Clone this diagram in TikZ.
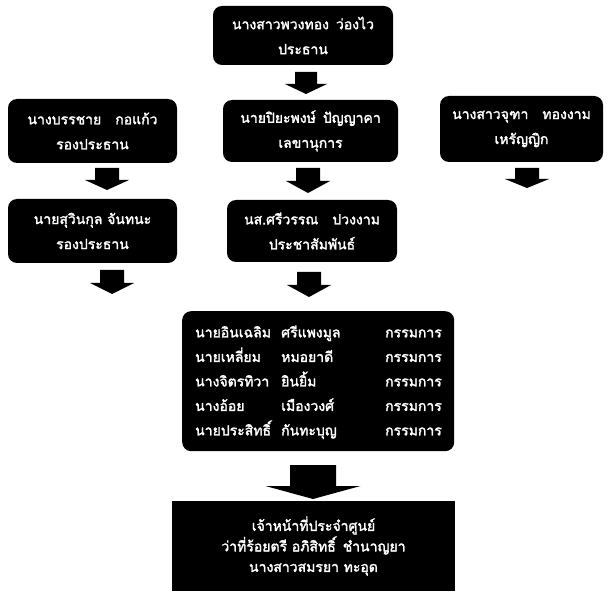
\documentclass[tikz,border=0pt]{standalone}
\usepackage{fontspec}
\newfontfamily\thaifont[Script=Thai,FakeBold=2]{Loma}
\newcommand\blockdown[6]{% cx, top, headbase, shaftw, headw, tip
  \fill[black] (#1-#4/2,#2) -- (#1+#4/2,#2) -- (#1+#4/2,#3) -- (#1+#5/2,#3)
    -- (#1,#6) -- (#1-#5/2,#3) -- (#1-#4/2,#3) -- cycle;}
\begin{document}
\begin{tikzpicture}[x=1pt,y=-1pt,
  box/.style={fill=black, rounded corners=9pt, text=white, align=center,
    inner sep=0pt, font={\thaifont\fontsize{14}{25}\selectfont}},
  sqbox/.style={box, rounded corners=0pt},
  txt/.style={text=white, inner sep=0pt, font={\thaifont\fontsize{14}{24.5}\selectfont}}]
\useasboundingbox (0,0) rectangle (608,596);
\node[box, minimum width=180, minimum height=59] (chair) at (303,35.5)
  {นางสาวพวงทอง\enspace ว่องไว\\ประธาน};
\node[box, minimum width=169, minimum height=64] (vice1) at (92.5,131)
  {นางบรรชาย\quad กอแก้ว\\รองประธาน};
\node[box, minimum width=175, minimum height=62] (secr) at (310.5,131)
  {นายปิยะพงษ์\enspace ปัญญาคา\\เลขานุการ};
\node[box, minimum width=163, minimum height=66] (treas) at (521.5,129)
  {นางสาวจุฑา\quad ทองงาม\\เหรัญญิก};
\node[box, minimum width=169, minimum height=64] (vice2) at (92.5,231)
  {นายสุวินกุล จันทนะ\\รองประธาน};
\node[box, minimum width=170, minimum height=62] (pr) at (312,231)
  {นส.ศรีวรรณ\quad ปวงงาม\\ประชาสัมพันธ์};
\node[box, minimum width=272, minimum height=140, anchor=north west] (comm) at (182,311) {};
\node[txt, anchor=west] (commtext) at (195,381.5) {%
  \begin{tabular}{@{}p{86pt}@{}p{104pt}@{}l@{}}
  นายอินเฉลิม & ศรีแพงมูล & กรรมการ\\
  นายเหลี่ยม & หมอยาดี & กรรมการ\\
  นางจิตรทิวา & ยินยิ้ม & กรรมการ\\
  นางอ้อย & เมืองวงศ์ & กรรมการ\\
  นายประสิทธิ์ & กันทะบุญ & กรรมการ
  \end{tabular}};
\node[sqbox, minimum width=283, minimum height=90, font={\thaifont\fontsize{14}{21.5}\selectfont}] (staff) at (313.5,546)
  {เจ้าหน้าที่ประจำศูนย์\\[-1pt]ว่าที่ร้อยตรี อภิสิทธิ์\enspace ชำนาญยา\\[-1pt]นางสาวสมรยา ทะอุด};
% block arrows
\blockdown{306}{72}{84}{22}{42}{94}
\blockdown{107}{168}{180}{24}{44}{190}
\blockdown{308}{168}{181}{24}{44}{193}
\blockdown{527}{168}{179}{24}{44}{188}
\blockdown{112}{270}{283}{24}{44}{294}
\blockdown{309}{272}{285}{24}{44}{297}
\blockdown{313}{465}{486}{46}{95}{499}
\end{tikzpicture}
\end{document}
